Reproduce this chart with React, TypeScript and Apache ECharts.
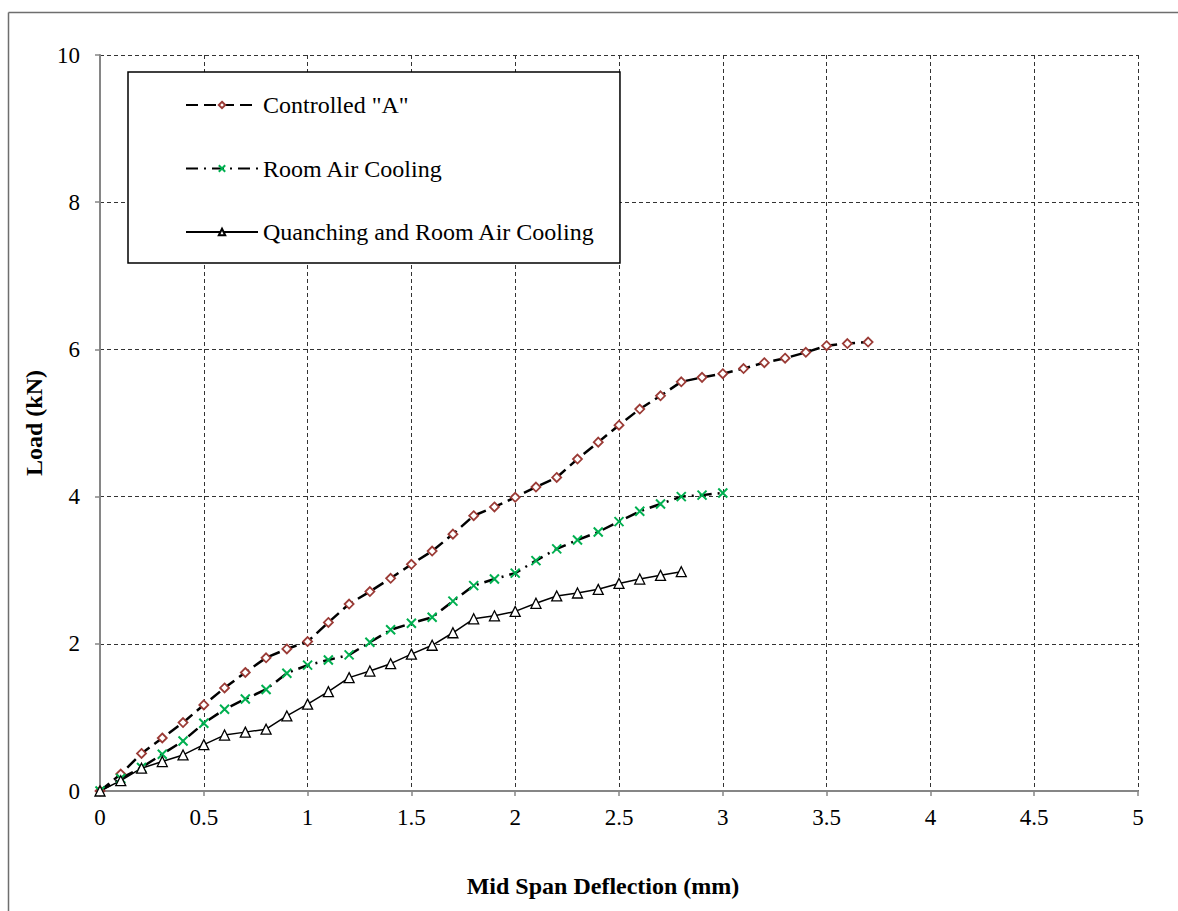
import React, { useEffect, useRef } from "react";
import * as echarts from "echarts";

const xValues = [0, 0.1, 0.2, 0.3, 0.4, 0.5, 0.6, 0.7, 0.8, 0.9, 1.0, 1.1, 1.2, 1.3, 1.4, 1.5, 1.6, 1.7, 1.8, 1.9, 2.0, 2.1, 2.2, 2.3, 2.4, 2.5, 2.6, 2.7, 2.8, 2.9, 3.0, 3.1, 3.2, 3.3, 3.4, 3.5, 3.6, 3.7];

const controlledA = [0, 0.23, 0.51, 0.72, 0.93, 1.17, 1.4, 1.61, 1.81, 1.93, 2.03, 2.29, 2.54, 2.71, 2.89, 3.08, 3.26, 3.49, 3.74, 3.86, 3.99, 4.13, 4.26, 4.51, 4.74, 4.97, 5.19, 5.37, 5.56, 5.62, 5.67, 5.74, 5.82, 5.88, 5.96, 6.05, 6.08, 6.1];

const roomAir = [0, 0.17, 0.32, 0.5, 0.68, 0.92, 1.11, 1.25, 1.38, 1.6, 1.71, 1.78, 1.85, 2.02, 2.19, 2.28, 2.36, 2.58, 2.79, 2.88, 2.96, 3.13, 3.29, 3.41, 3.52, 3.66, 3.8, 3.9, 4.0, 4.02, 4.05];

const quanching = [0, 0.14, 0.31, 0.4, 0.49, 0.63, 0.76, 0.8, 0.84, 1.02, 1.18, 1.35, 1.54, 1.63, 1.73, 1.86, 1.98, 2.15, 2.34, 2.38, 2.44, 2.55, 2.65, 2.69, 2.74, 2.82, 2.88, 2.93, 2.98];

const seriesNames = ['Controlled "A"', "Room Air Cooling", "Quanching and Room Air Cooling"];
const xTicks = ["0", "0.5", "1", "1.5", "2", "2.5", "3", "3.5", "4", "4.5", "5"];
const yTicks = ["0", "2", "4", "6", "8", "10"];

const FONT = "Liberation Serif";

function pairs(vals: number[]) {
  return vals.map((v, i) => [xValues[i], v]);
}

export default function App() {
  const ref = useRef<HTMLDivElement>(null);
  useEffect(() => {
    if (!ref.current) return;
    const chart = echarts.init(ref.current, undefined, { renderer: "svg" });
    chart.setOption({
      animation: false,
      backgroundColor: "#ffffff",
      textStyle: { fontFamily: FONT },
      graphic: [
        {
          type: "line",
          shape: { x1: 8.5, y1: 12.5, x2: 1178, y2: 12.5 },
          style: { stroke: "#6e6e6e", lineWidth: 1.5 },
          z: 0,
        },
        {
          type: "line",
          shape: { x1: 8.5, y1: 12.5, x2: 8.5, y2: 911 },
          style: { stroke: "#6e6e6e", lineWidth: 1.5 },
          z: 0,
        },
      ],
      grid: { left: 100, top: 55, right: 40, bottom: 120 },
      legend: {
        left: 128,
        top: 72,
        orient: "vertical",
        backgroundColor: "#ffffff",
        borderColor: "#000000",
        borderWidth: 1.5,
        borderRadius: 0,
        padding: [21, 25, 19, 57],
        itemGap: 39.5,
        itemWidth: 72,
        itemHeight: 8,
        textStyle: { fontFamily: FONT, fontSize: 24, color: "#000", lineHeight: 24 },
        data: seriesNames,
      },
      xAxis: {
        type: "value",
        min: 0,
        max: 5,
        interval: 0.5,
        name: "Mid Span Deflection (mm)",
        nameLocation: "middle",
        nameGap: 83,
        nameTextStyle: {
          fontFamily: FONT,
          fontSize: 24,
          fontWeight: "bold",
          color: "#000",
          padding: [0, 32, 0, 0],
        },
        axisLine: { onZero: false, lineStyle: { color: "#868686", width: 2 } },
        axisTick: { show: true, length: 5, lineStyle: { color: "#868686", width: 1.5 } },
        axisLabel: {
          fontFamily: FONT,
          fontSize: 23,
          color: "#000",
          margin: 15,
          formatter: (v: number) => xTicks[Math.round(v * 2)] ?? String(v),
        },
        splitLine: { show: true, lineStyle: { color: "#333", type: [4, 3], width: 1 } },
      },
      yAxis: {
        type: "value",
        min: 0,
        max: 10,
        interval: 2,
        name: "Load (kN)",
        nameLocation: "middle",
        nameGap: 48,
        nameTextStyle: { fontFamily: FONT, fontSize: 24, fontWeight: "bold", color: "#000" },
        axisLine: { show: true, lineStyle: { color: "#868686", width: 2 } },
        axisTick: { show: true, length: 5, lineStyle: { color: "#868686", width: 1.5 } },
        axisLabel: {
          fontFamily: FONT,
          fontSize: 23,
          color: "#000",
          margin: 20,
          formatter: (v: number) => yTicks[Math.round(v / 2)] ?? String(v),
        },
        splitLine: { show: true, lineStyle: { color: "#333", type: [4, 3], width: 1 } },
      },
      series: [
        {
          name: seriesNames[0],
          type: "line",
          data: pairs(controlledA),
          symbol: "diamond",
          symbolSize: 9,
          showAllSymbol: true,
          lineStyle: { color: "#000", width: 2.5, type: [12, 6] },
          itemStyle: { color: "#ffffff", borderColor: "#9B3B36", borderWidth: 1.8 },
          z: 3,
        },
        {
          name: seriesNames[1],
          type: "line",
          data: pairs(roomAir),
          symbol: "path://M0,0L10,10M10,0L0,10",
          symbolSize: 9,
          showAllSymbol: true,
          lineStyle: { color: "#000", width: 2.5, type: [12, 6, 2, 6] },
          itemStyle: { color: "#00B050", borderColor: "#00B050", borderWidth: 2 },
          z: 3,
        },
        {
          name: seriesNames[2],
          type: "line",
          data: pairs(quanching),
          symbol: "triangle",
          symbolSize: 10,
          showAllSymbol: true,
          lineStyle: { color: "#000", width: 1.5, type: "solid" },
          itemStyle: { color: "#ffffff", borderColor: "#000", borderWidth: 1.3 },
          z: 3,
        },
      ],
    });
    return () => chart.dispose();
  }, []);
  return (
    <div
      ref={ref}
      style={{ position: "absolute", left: 0, top: 0, width: 1178, height: 911 }}
    />
  );
}
